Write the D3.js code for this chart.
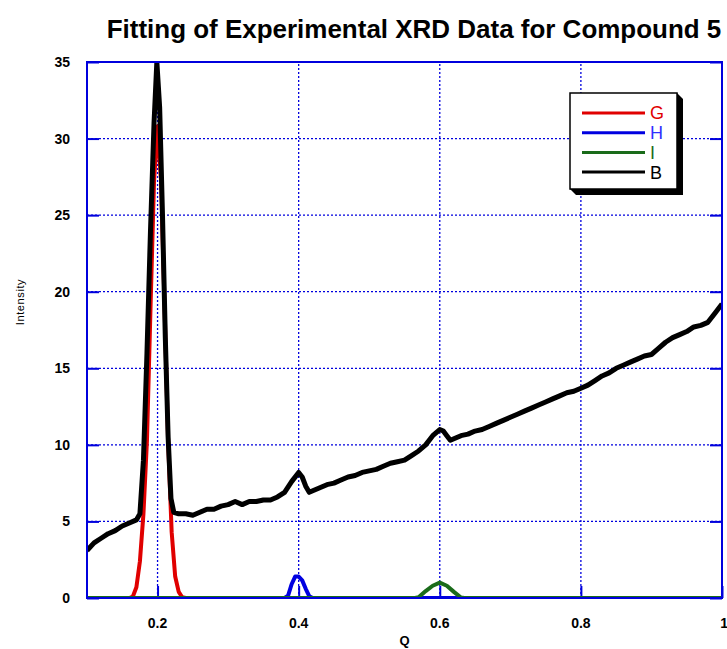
<!DOCTYPE html>
<html>
<head>
<meta charset="utf-8">
<script src="https://cdn.jsdelivr.net/npm/d3@7"></script>
<style>
  body { margin: 0; background: #fff; }
  text { font-family: "Liberation Sans", Arial, sans-serif; }
</style>
</head>
<body>
<div id="chart"></div>
<script>
// Q values and intensities, one array pair per series
const gQ = [0.10, 0.160, 0.165, 0.170, 0.175, 0.180, 0.185, 0.190, 0.195, 0.200, 0.205, 0.210, 0.215, 0.220, 0.225, 0.230, 0.235, 0.24, 1.00];
const gI = [0, 0, 0.1, 0.7, 2.4, 5.5, 10.3, 18.9, 27.2, 30.8, 27.2, 18.9, 10.2, 4.3, 1.4, 0.4, 0.05, 0, 0];

const hQ = [0.10, 0.380, 0.385, 0.390, 0.395, 0.400, 0.405, 0.410, 0.415, 0.420, 1.00];
const hI = [0, 0, 0.15, 0.9, 1.4, 1.4, 1.15, 0.6, 0.12, 0, 0];

const iQ = [0.10, 0.565, 0.570, 0.580, 0.590, 0.600, 0.610, 0.620, 0.630, 0.635, 1.00];
const iI = [0, 0, 0.05, 0.45, 0.8, 1.0, 0.8, 0.4, 0.03, 0, 0];

const bQ = [0.100, 0.110, 0.120, 0.130, 0.140, 0.150, 0.160, 0.170, 0.175, 0.180,
            0.185, 0.190, 0.195, 0.199, 0.203, 0.207, 0.211, 0.215, 0.219, 0.223,
            0.230, 0.240, 0.250, 0.260, 0.270, 0.280, 0.290, 0.300, 0.310, 0.320,
            0.330, 0.340, 0.350, 0.360, 0.370, 0.380, 0.390, 0.400, 0.405, 0.410,
            0.415, 0.420, 0.430, 0.440, 0.450, 0.460, 0.470, 0.480, 0.490, 0.500,
            0.510, 0.520, 0.530, 0.540, 0.550, 0.560, 0.570, 0.580, 0.590, 0.600,
            0.605, 0.610, 0.615, 0.620, 0.630, 0.640, 0.650, 0.660, 0.670, 0.680,
            0.690, 0.700, 0.710, 0.720, 0.730, 0.740, 0.750, 0.760, 0.770, 0.780,
            0.790, 0.800, 0.810, 0.820, 0.830, 0.840, 0.850, 0.860, 0.870, 0.880,
            0.890, 0.900, 0.910, 0.920, 0.930, 0.940, 0.950, 0.960, 0.970, 0.980,
            0.990, 1.000];
const bI = [3.1, 3.6, 3.9, 4.2, 4.4, 4.7, 4.9, 5.1, 5.5, 9.0,
            16.0, 24.0, 31.0, 35.0, 32.0, 25.0, 17.0, 10.5, 6.5, 5.6,
            5.5, 5.5, 5.4, 5.6, 5.8, 5.8, 6.0, 6.1, 6.3, 6.1,
            6.3, 6.3, 6.4, 6.4, 6.6, 6.9, 7.6, 8.2, 7.9, 7.3,
            6.9, 7.0, 7.2, 7.4, 7.5, 7.7, 7.9, 8.0, 8.2, 8.3,
            8.4, 8.6, 8.8, 8.9, 9.0, 9.3, 9.6, 10.0, 10.6, 11.0,
            10.9, 10.6, 10.3, 10.4, 10.6, 10.7, 10.9, 11.0, 11.2, 11.4,
            11.6, 11.8, 12.0, 12.2, 12.4, 12.6, 12.8, 13.0, 13.2, 13.4,
            13.5, 13.7, 13.9, 14.2, 14.5, 14.7, 15.0, 15.2, 15.4, 15.6,
            15.8, 15.9, 16.3, 16.7, 17.0, 17.2, 17.4, 17.7, 17.8, 18.0,
            18.6, 19.2];

const xTicks = [0.2, 0.4, 0.6, 0.8, 1];
const yTicks = [0, 5, 10, 15, 20, 25, 30, 35];

const seriesNames = ['G', 'H', 'I', 'B'];
const seriesColors = ['#e00000', '#0000e0', '#1a6b1a', '#000000'];

const width = 727;
const height = 649;
const margin = { top: 62, right: 5, bottom: 51, left: 87 };

const svg = d3.select('#chart')
  .append('svg')
  .attr('width', width)
  .attr('height', height);

const x = d3.scaleLinear()
  .domain([0.1, 1])
  .range([margin.left, width - margin.right]);

const y = d3.scaleLinear()
  .domain([0, 35])
  .range([height - margin.bottom, margin.top]);

const axisBlue = '#0000dd';

svg.append('clipPath')
  .attr('id', 'plot-clip')
  .append('rect')
  .attr('x', x(0.1))
  .attr('y', y(35))
  .attr('width', x(1) - x(0.1))
  .attr('height', y(0) - y(35));

// dotted grid
svg.append('g')
  .selectAll('line')
  .data(xTicks.filter(d => d < 1))
  .join('line')
  .attr('x1', d => x(d)).attr('x2', d => x(d))
  .attr('y1', y(0)).attr('y2', y(35))
  .attr('stroke', axisBlue)
  .attr('stroke-width', 1.3)
  .attr('stroke-dasharray', '2,2');

svg.append('g')
  .selectAll('line')
  .data(yTicks.filter(d => d > 0 && d < 35))
  .join('line')
  .attr('x1', x(0.1)).attr('x2', x(1))
  .attr('y1', d => y(d)).attr('y2', d => y(d))
  .attr('stroke', axisBlue)
  .attr('stroke-width', 1.3)
  .attr('stroke-dasharray', '2,2');

// inner tick marks on left, right and bottom
const tickLen = 12;
svg.append('g').call(d3.axisRight(y).tickValues(yTicks).tickSize(tickLen).tickFormat(''))
  .attr('transform', `translate(${x(0.1)},0)`)
  .call(g => g.select('.domain').remove())
  .call(g => g.selectAll('line').attr('stroke', axisBlue).attr('stroke-width', 2));

svg.append('g').call(d3.axisLeft(y).tickValues(yTicks).tickSize(tickLen).tickFormat(''))
  .attr('transform', `translate(${x(1)},0)`)
  .call(g => g.select('.domain').remove())
  .call(g => g.selectAll('line').attr('stroke', axisBlue).attr('stroke-width', 2));

svg.append('g').call(d3.axisTop(x).tickValues(xTicks).tickSize(tickLen).tickFormat(''))
  .attr('transform', `translate(0,${y(0)})`)
  .call(g => g.select('.domain').remove())
  .call(g => g.selectAll('line').attr('stroke', axisBlue).attr('stroke-width', 2));

// series lines
const line = d3.line()
  .x(d => x(d[0]))
  .y(d => y(d[1]));

const series = [
  d3.zip(gQ, gI),
  d3.zip(hQ, hI),
  d3.zip(iQ, iI),
  d3.zip(bQ, bI)
];
const lineWidths = [4, 4, 4, 5];

svg.append('g')
  .attr('clip-path', 'url(#plot-clip)')
  .selectAll('path')
  .data(series)
  .join('path')
  .attr('d', line)
  .attr('fill', 'none')
  .attr('stroke', (d, i) => seriesColors[i])
  .attr('stroke-width', (d, i) => lineWidths[i])
  .attr('stroke-linejoin', 'round');

// frame
svg.append('rect')
  .attr('x', x(0.1))
  .attr('y', y(35))
  .attr('width', x(1) - x(0.1))
  .attr('height', y(0) - y(35))
  .attr('fill', 'none')
  .attr('stroke', axisBlue)
  .attr('stroke-width', 2);

// tick labels
svg.append('g')
  .selectAll('text')
  .data(yTicks)
  .join('text')
  .attr('x', 70)
  .attr('y', d => y(d))
  .attr('dy', '0.36em')
  .attr('text-anchor', 'end')
  .attr('font-size', 14)
  .attr('font-weight', 'bold')
  .text(d => d);

svg.append('g')
  .selectAll('text')
  .data(xTicks)
  .join('text')
  .attr('x', d => x(d))
  .attr('y', 628)
  .attr('text-anchor', d => d === 1 ? 'end' : 'middle')
  .attr('dx', d => d === 1 ? 6 : 0)
  .attr('font-size', 14)
  .attr('font-weight', 'bold')
  .text(d => d);

// axis titles
svg.append('text')
  .attr('x', (x(0.1) + x(1)) / 2)
  .attr('y', 645)
  .attr('text-anchor', 'middle')
  .attr('font-size', 13)
  .attr('font-weight', 'bold')
  .text('Q');

svg.append('text')
  .attr('transform', 'translate(24,302) rotate(-90)')
  .attr('text-anchor', 'middle')
  .attr('font-size', 11)
  .attr('letter-spacing', 0.6)
  .text('Intensity');

const title = svg.append('text')
  .attr('x', 414)
  .attr('y', 38)
  .attr('text-anchor', 'middle')
  .attr('font-size', 21)
  .attr('font-weight', 'bold')
  .text('Fitting of Experimental XRD Data for Compound 5');

// shrink or grow the title so it spans the width above the plot
const titleLen = title.node().getComputedTextLength();
title.attr('font-size', 21 * 615 / titleLen);

// legend with drop shadow
const lg = { x: 570, y: 93, w: 107, h: 96, off: 6 };
const legend = svg.append('g');

legend.append('path')
  .attr('d', `M${lg.x + lg.w},${lg.y} l${lg.off},${lg.off} v${lg.h} h${-lg.w} l${-lg.off},${-lg.off} Z`)
  .attr('fill', '#000');

legend.append('rect')
  .attr('x', lg.x)
  .attr('y', lg.y)
  .attr('width', lg.w)
  .attr('height', lg.h)
  .attr('fill', '#fff')
  .attr('stroke', '#000')
  .attr('stroke-width', 1.5);

const legendRows = legend.selectAll('g.row')
  .data(seriesNames)
  .join('g')
  .attr('class', 'row')
  .attr('transform', (d, i) => `translate(0,${113 + i * 19.7})`);

legendRows.append('line')
  .attr('x1', 582)
  .attr('x2', 645)
  .attr('stroke', (d, i) => seriesColors[i])
  .attr('stroke-width', 3);

legendRows.append('text')
  .attr('x', 650)
  .attr('dy', '0.36em')
  .attr('font-size', 18)
  .attr('fill', (d, i) => seriesColors[i] === '#0000e0' ? '#3030ff' : seriesColors[i])
  .text(d => d);
</script>
</body>
</html>
